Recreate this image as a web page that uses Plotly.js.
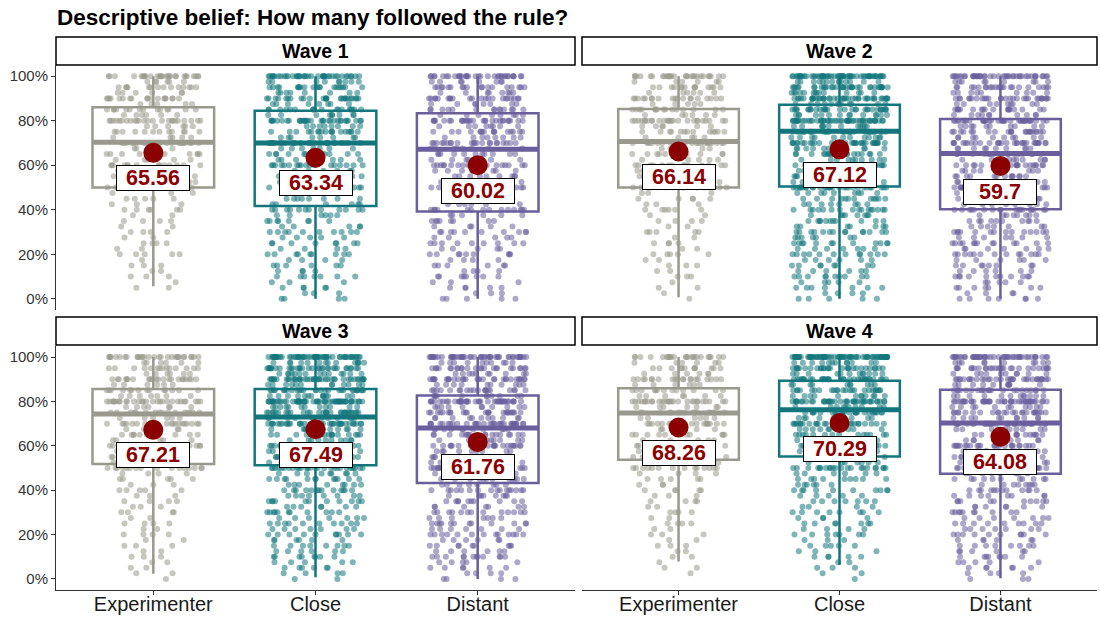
<!DOCTYPE html>
<html><head><meta charset="utf-8">
<script src="https://cdn.plot.ly/plotly-3.0.1.min.js"></script>
<style>html,body{margin:0;padding:0;background:#fff}#chart{width:1100px;height:619px}</style>
</head><body><div id="chart"></div>
<script>
// ---------- data ----------
const categories = ["Experimenter", "Close", "Distant"];
const waves = ["Wave 1", "Wave 2", "Wave 3", "Wave 4"];
const yTickVals = [0, 20, 40, 60, 80, 100];
const yTickText = ["0%", "20%", "40%", "60%", "80%", "100%"];

// response levels (percent) used for the point clouds
const levels = [0,2.5,5,7.5,10,12.5,15,17.5,20,22.5,25,27.5,30,32.5,35,37.5,40,42.5,45,47.5,50,
                52.5,55,57.5,60,62.5,65,67.5,70,72.5,75,77.5,80,82.5,85,87.5,90,92.5,95,97.5,100];

// number of respondents at each level (read from the clouds)
const countsW1Exp   = [0,0,2,1,3,2,3,1,5,2,4,2,4,2,4,2,6,3,5,3,16,4,6,4,14,5,10,5,22,5,12,6,24,6,14,5,18,6,14,6,28];
const countsW1Close = [4,3,5,3,7,4,6,4,9,4,8,5,10,5,8,6,12,6,8,6,22,6,9,6,18,7,12,7,26,8,18,8,32,9,18,8,26,8,20,9,40];
const countsW1Dist  = [5,3,5,3,8,4,6,4,9,5,9,5,10,5,8,6,14,6,8,6,22,7,9,7,18,7,11,8,22,8,16,8,28,8,14,8,22,8,18,8,34];
const countsW2Exp   = [1,1,2,1,3,2,3,2,5,2,4,2,5,2,4,2,6,3,5,3,16,4,6,4,14,5,10,5,24,5,13,6,26,6,15,5,19,6,14,6,28];
const countsW2Close = [5,4,7,5,10,6,8,6,12,7,12,7,14,7,11,8,16,8,12,9,30,9,14,9,28,10,18,10,34,12,30,12,50,14,30,12,40,14,34,14,60];
const countsW2Dist  = [7,4,7,5,11,6,8,6,13,7,13,7,14,7,10,8,18,8,11,8,30,9,13,9,24,10,16,10,30,10,22,10,36,10,18,9,28,9,22,9,44];
const countsW3Exp   = [1,2,2,2,3,2,3,2,4,2,4,2,4,3,4,3,5,3,5,4,16,5,6,4,14,5,10,6,20,6,16,7,28,7,14,6,22,6,14,6,30];
const countsW3Close = [2,4,6,5,8,6,8,6,10,7,10,7,11,7,11,8,13,8,12,9,28,9,14,9,26,10,18,11,36,12,30,12,56,14,28,12,40,14,32,14,60];
const countsW3Dist  = [4,4,6,5,12,6,9,6,13,7,12,7,13,7,10,8,16,8,12,9,30,9,14,9,26,10,17,11,32,11,24,11,40,11,20,10,30,10,24,10,50];
const countsW4Exp   = [0,1,2,1,2,2,3,2,3,2,4,2,4,2,4,3,5,3,5,4,14,5,7,5,14,5,10,6,20,6,16,7,28,7,13,6,20,6,12,6,24];
const countsW4Close = [1,2,3,2,5,3,5,3,7,4,7,4,8,4,7,5,10,6,9,6,22,7,10,7,20,8,14,9,28,10,24,10,40,12,24,10,34,12,28,12,76];
const countsW4Dist  = [3,4,6,5,8,6,8,6,10,7,9,7,10,7,10,8,12,8,11,8,28,9,13,9,24,9,16,10,32,11,24,11,42,12,22,10,32,10,26,10,48];

// means (labels)
const meanW1 = [65.56, 63.34, 60.02];
const meanW2 = [66.14, 67.12, 59.7];
const meanW3 = [67.21, 67.49, 61.76];
const meanW4 = [68.26, 70.29, 64.08];

// box statistics
const q1W1  = [50, 41.7, 39.2],  medW1 = [70.3, 70, 67.2],  q3W1 = [86, 84.5, 83.3],  loW1 = [5.7, 0, 0],     hiW1 = [100, 100, 100];
const q1W2  = [50, 50.5, 40.2],  medW2 = [70.7, 75.2, 65.3], q3W2 = [85.3, 87.1, 80.8], loW2 = [0.7, 0, 0],    hiW2 = [100, 100, 100];
const q1W3  = [51.8, 51.2, 43.2], medW3 = [74.3, 73, 68],   q3W3 = [85.6, 85.6, 82.7], loW3 = [2.3, 0.7, 0],  hiW3 = [100, 100, 100];
const q1W4  = [53.7, 55.2, 47.4], medW4 = [74.8, 76.3, 70.3], q3W4 = [86, 89.3, 85.3], loW4 = [7.9, 6.4, 0.3], hiW4 = [100, 100, 100];

// ---------- styling ----------
const boxColors   = ["#99998d", "#13767c", "#6a5f9c"];
const pointColors = ["rgba(153,153,141,0.55)", "rgba(19,118,124,0.55)", "rgba(106,95,156,0.55)"];
const FONT = "Liberation Sans, Arial, Helvetica, sans-serif";
const BOXW = 0.75, LABEL_NUDGE = -11.5;

const panels = [
  {counts: [countsW1Exp, countsW1Close, countsW1Dist], mean: meanW1, q1: q1W1, med: medW1, q3: q3W1, lo: loW1, hi: hiW1, xa: "x",  ya: "y"},
  {counts: [countsW2Exp, countsW2Close, countsW2Dist], mean: meanW2, q1: q1W2, med: medW2, q3: q3W2, lo: loW2, hi: hiW2, xa: "x2", ya: "y2"},
  {counts: [countsW3Exp, countsW3Close, countsW3Dist], mean: meanW3, q1: q1W3, med: medW3, q3: q3W3, lo: loW3, hi: hiW3, xa: "x3", ya: "y3"},
  {counts: [countsW4Exp, countsW4Close, countsW4Dist], mean: meanW4, q1: q1W4, med: medW4, q3: q3W4, lo: loW4, hi: hiW4, xa: "x4", ya: "y4"}
];

function expand(counts) {
  const out = [];
  counts.forEach((c, i) => { for (let k = 0; k < c; k++) out.push(levels[i]); });
  return out;
}

const traces = [];
const annotations = [];
panels.forEach((p, pi) => {
  // jittered points
  categories.forEach((cat, ci) => {
    traces.push({
      type: "box", x0: ci + 1, y: expand(p.counts[ci]), name: cat,
      xaxis: p.xa, yaxis: p.ya,
      boxpoints: "all", jitter: 1, pointpos: 0, width: 0.6,
      line: {width: 0, color: "rgba(0,0,0,0)"}, fillcolor: "rgba(0,0,0,0)", whiskerwidth: 0,
      marker: {color: pointColors[ci], size: 6, line: {width: 0}},
      hoverinfo: "skip", showlegend: false
    });
  });
  // boxplots
  categories.forEach((cat, ci) => {
    traces.push({
      type: "box", x: [ci + 1], q1: [p.q1[ci]], median: [p.med[ci]], q3: [p.q3[ci]],
      lowerfence: [p.lo[ci]], upperfence: [p.hi[ci]],
      xaxis: p.xa, yaxis: p.ya, width: BOXW, boxpoints: false,
      line: {color: boxColors[ci], width: 2.5}, fillcolor: "rgba(0,0,0,0)", whiskerwidth: 0,
      hoverinfo: "skip", showlegend: false
    });
    // thick median line
    traces.push({
      type: "scatter", mode: "lines",
      x: [ci + 1 - BOXW / 2, ci + 1 + BOXW / 2], y: [p.med[ci], p.med[ci]],
      xaxis: p.xa, yaxis: p.ya, line: {color: boxColors[ci], width: 5},
      hoverinfo: "skip", showlegend: false
    });
  });
  // mean points
  traces.push({
    type: "scatter", mode: "markers", x: [1, 2, 3], y: p.mean,
    xaxis: p.xa, yaxis: p.ya, marker: {color: "#8b0000", size: 20},
    hoverinfo: "skip", showlegend: false
  });
  // mean labels
  p.mean.forEach((m, ci) => {
    annotations.push({
      xref: p.xa, yref: p.ya, x: ci + 1, y: m + LABEL_NUDGE,
      text: "<b>" + m + "</b>", showarrow: false,
      font: {family: FONT, size: 21.5, color: "#8b0000"},
      bgcolor: "#ffffff", bordercolor: "#000000", borderwidth: 1, borderpad: 1,
      width: 70, height: 22, xanchor: "center", yanchor: "middle"
    });
  });
});

// ---------- layout ----------
const W = 1100, H = 619;
const colX = [[56 / W, 575 / W], [582 / W, 1097 / W]];
const rowY = [[1 - 310 / H, 1 - 65 / H], [1 - 590 / H, 1 - 346 / H]];
const stripY = [[1 - 65 / H, 1 - 37 / H], [1 - 345 / H, 1 - 317 / H]];

function xAxis(col, row) {
  const bottom = row === 1;
  return {
    domain: colX[col], range: [0.4, 3.6], anchor: ["y", "y2", "y3", "y4"][row * 2 + col],
    showgrid: false, zeroline: false, fixedrange: true,
    tickmode: "array", tickvals: [1, 2, 3], ticktext: categories,
    showticklabels: bottom, ticks: bottom ? "outside" : "", ticklen: 4, tickcolor: "#333333",
    ticklabelstandoff: -8,
    showline: bottom, linecolor: "#333333", linewidth: 1,
    tickfont: {family: FONT, size: 20, color: "#1a1a1a"}
  };
}
function yAxis(col, row) {
  const left = col === 0;
  return {
    domain: rowY[row], range: [-5, 105], anchor: ["x", "x2", "x3", "x4"][row * 2 + col],
    showgrid: false, zeroline: false, fixedrange: true,
    tickmode: "array", tickvals: yTickVals, ticktext: yTickText,
    showticklabels: left, ticks: left ? "outside" : "", ticklen: 4, tickcolor: "#333333",
    showline: left, linecolor: "#333333", linewidth: 1,
    tickfont: {family: FONT, size: 15, color: "#333333"}
  };
}

const shapes = [];
waves.forEach((w, i) => {
  const col = i % 2, row = Math.floor(i / 2);
  shapes.push({type: "rect", xref: "paper", yref: "paper",
    x0: colX[col][0], x1: colX[col][1], y0: stripY[row][0], y1: stripY[row][1],
    line: {color: "#000000", width: 1.5}, fillcolor: "#ffffff", layer: "below"});
  annotations.push({xref: "paper", yref: "paper",
    x: (colX[col][0] + colX[col][1]) / 2, y: (stripY[row][0] + stripY[row][1]) / 2,
    text: "<b>" + w + "</b>", showarrow: false, xanchor: "center", yanchor: "middle",
    font: {family: FONT, size: 19.5, color: "#000000"}});
});

const layout = {
  width: W, height: H, margin: {l: 0, r: 0, t: 0, b: 0},
  paper_bgcolor: "#ffffff", plot_bgcolor: "rgba(0,0,0,0)",
  showlegend: false, boxmode: "overlay",
  title: {text: "<b>Descriptive belief: How many followed the rule?</b>",
          x: 57 / W, xanchor: "left", xref: "paper", y: 1 - 17 / H, yanchor: "middle",
          font: {family: FONT, size: 22.5, color: "#000000"}},
  xaxis: xAxis(0, 0), yaxis: yAxis(0, 0),
  xaxis2: xAxis(1, 0), yaxis2: yAxis(1, 0),
  xaxis3: xAxis(0, 1), yaxis3: yAxis(0, 1),
  xaxis4: xAxis(1, 1), yaxis4: yAxis(1, 1),
  shapes: shapes, annotations: annotations,
  font: {family: FONT}
};

Plotly.newPlot("chart", traces, layout, {displayModeBar: false, staticPlot: true});
</script>
</body></html>
